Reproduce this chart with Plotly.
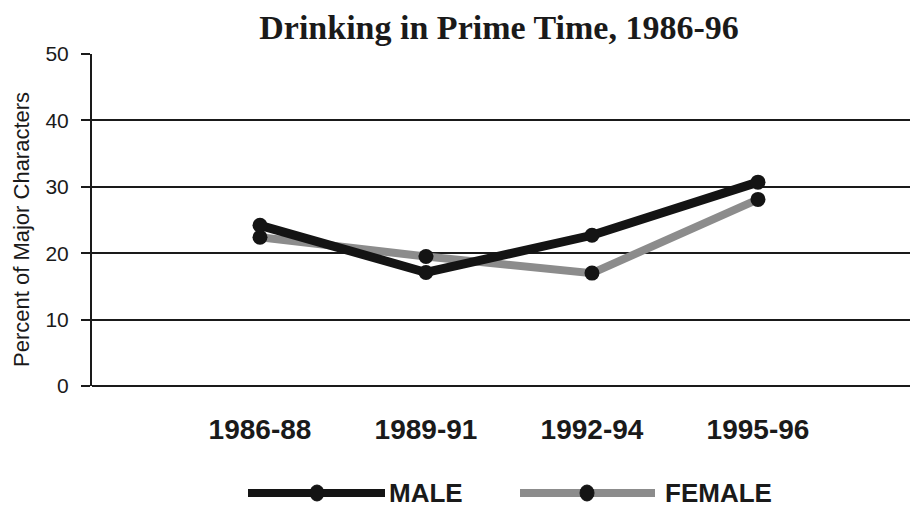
import plotly.graph_objects as go

# ---- data ----
periods = ["1986-88", "1989-91", "1992-94", "1995-96"]
male = [24.2, 17.1, 22.7, 30.7]
female = [22.4, 19.5, 17.0, 28.1]
y_ticks = [0, 10, 20, 30, 40, 50]
title_text = "Drinking in Prime Time, 1986-96"
y_title = "Percent of Major Characters"
series_names = ["MALE", "FEMALE"]

# ---- styles ----
OFF = 8  # page body margin offset
W, H = 918 - OFF, 509 - OFF
L, R, T, B = 92 - OFF, 0, 54 - OFF, 123
male_color = "#141414"
female_color = "#8c8c8c"
marker_color = "#141414"

fig = go.Figure()
fig.add_trace(go.Scatter(
    x=periods, y=female, mode="lines+markers", name=series_names[1],
    line=dict(color=female_color, width=8),
    marker=dict(color=marker_color, size=15),
    showlegend=False, cliponaxis=False))
fig.add_trace(go.Scatter(
    x=periods, y=male, mode="lines+markers", name=series_names[0],
    line=dict(color=male_color, width=9),
    marker=dict(color=marker_color, size=15),
    showlegend=False, cliponaxis=False))

pw = W - L - R
ph = H - T - B

def px_x(x):
    return (x - OFF - L) / pw

def px_y(y):
    return (H - B - (y - OFF)) / ph

# custom legend (long sample lines as in the reference)
shapes = []
annotations = []
legend_items = [
    (series_names[0], male_color, 248, 385, 317, 387),
    (series_names[1], female_color, 520, 655, 587, 663),
]
for name, col, x0, x1, xm, xt in legend_items:
    yy = px_y(493)
    shapes.append(dict(type="line", xref="paper", yref="paper",
                       x0=px_x(x0), x1=px_x(x1), y0=yy, y1=yy,
                       line=dict(color=col, width=8)))
    shapes.append(dict(type="circle", xref="paper", yref="paper",
                       xsizemode="pixel", ysizemode="pixel",
                       xanchor=px_x(xm), yanchor=yy,
                       x0=-7, x1=7, y0=-8, y1=8,
                       fillcolor=marker_color, line=dict(color=marker_color, width=1)))
    annotations.append(dict(text=name, xref="paper", yref="paper",
                            x=px_x(xt), y=yy, xanchor="left", yanchor="middle",
                            showarrow=False,
                            font=dict(family="Liberation Sans", size=26,
                                      color="#1a1a1a", weight="bold")))

annotations.append(dict(text=y_title, xref="paper", yref="paper",
                        x=px_x(22), y=px_y(230), xanchor="center", yanchor="middle",
                        textangle=-90, showarrow=False,
                        font=dict(family="Liberation Sans", size=22, color="#1a1a1a")))

fig.update_layout(
    width=W, height=H,
    margin=dict(l=L, r=R, t=T, b=B, pad=0),
    paper_bgcolor="white", plot_bgcolor="white",
    title=dict(text=title_text, xref="container", yref="container",
               x=(499 - OFF) / W, y=1 - (27 - OFF) / H,
               xanchor="center", yanchor="middle",
               font=dict(family="Liberation Serif", size=34, color="#1a1a1a",
                         weight="bold")),
    shapes=shapes, annotations=annotations,
    showlegend=False,
)
fig.update_xaxes(
    type="category", categoryorder="array", categoryarray=periods,
    range=[-1.012, 3.964], showgrid=False, zeroline=False,
    showline=False, ticks="",
    tickfont=dict(family="Liberation Sans", size=28, color="#1a1a1a", weight="bold"),
    ticklabelstandoff=24,
)
fig.update_yaxes(
    range=[0, 50], tickvals=y_ticks, showgrid=True,
    gridcolor="#1a1a1a", gridwidth=2, zeroline=True, zerolinecolor="#1a1a1a",
    zerolinewidth=2, showline=True, linecolor="#1a1a1a", linewidth=2,
    ticks="outside", ticklen=9, tickwidth=2, tickcolor="#1a1a1a",
    tickfont=dict(family="Liberation Sans", size=21, color="#1a1a1a"),
    ticklabelstandoff=8,
)

fig.write_html("out.html")
